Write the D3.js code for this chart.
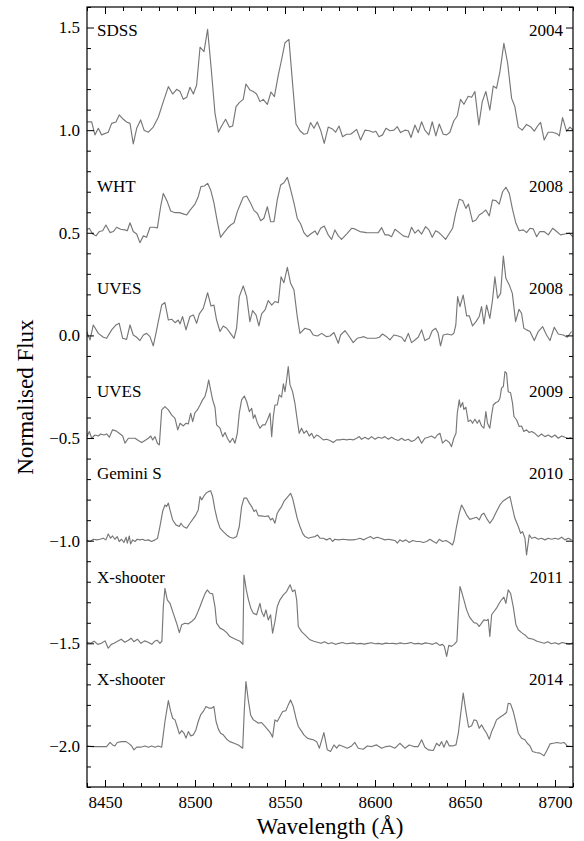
<!DOCTYPE html>
<html><head><meta charset="utf-8">
<script src="https://cdn.jsdelivr.net/npm/d3@7"></script>
<style>body{margin:0;background:#fff}svg{display:block}</style>
</head><body>
<script>
// ---- data: [wavelength (Å), normalised flux] ----
const sdss=[[8440,1.04],[8442.6,1.04],[8444.4,0.977],[8446.3,1.009],[8448.1,0.977],[8451.8,0.99],[8453.7,1.033],[8456.1,1.04],[8457.9,1.074],[8460.2,1.053],[8462.0,1.04],[8463.9,1.033],[8465.7,0.933],[8467.6,1.009],[8469.8,1.05],[8471.7,1.0],[8474.1,0.99],[8476.8,1.015],[8479.6,1.063],[8482.4,1.139],[8485.2,1.212],[8487.6,1.176],[8489.8,1.199],[8491.7,1.188],[8493.5,1.15],[8495.4,1.16],[8497.2,1.209],[8499.1,1.176],[8500.9,1.22],[8502.8,1.404],[8505.0,1.383],[8507.0,1.491],[8508.9,1.31],[8511.1,1.082],[8513.0,0.99],[8514.8,1.02],[8517.0,1.053],[8519.1,1.015],[8520.9,1.02],[8522.8,1.115],[8524.6,1.134],[8526.8,1.15],[8528.3,1.225],[8530.5,1.196],[8532.4,1.188],[8534.2,1.176],[8536.1,1.139],[8537.9,1.15],[8540.2,1.126],[8542.2,1.186],[8544.1,1.163],[8546.3,1.269],[8548.1,1.343],[8550.0,1.426],[8552.2,1.442],[8554.2,1.228],[8556.1,1.03],[8558.3,0.997],[8560.5,0.98],[8562.4,0.984],[8564.2,1.037],[8566.1,1.009],[8567.9,1.04],[8569.8,1.0],[8571.8,0.936],[8574.0,1.015],[8576.3,1.006],[8578.1,0.99],[8580.0,1.02],[8582.0,0.968],[8584.2,0.98],[8586.4,0.98],[8587.9,0.99],[8589.8,1.004],[8592.0,0.952],[8594.4,1.0],[8596.8,0.997],[8599.0,0.99],[8600.5,0.995],[8602.2,0.968],[8604.2,0.977],[8606.1,1.009],[8608.3,0.997],[8610.5,1.0],[8612.4,1.017],[8614.2,0.988],[8616.6,1.0],[8618.5,0.997],[8620.0,0.964],[8622.2,1.025],[8624.0,0.988],[8625.9,1.041],[8627.7,1.0],[8629.9,0.977],[8631.8,1.041],[8633.8,0.972],[8635.7,1.03],[8637.9,0.98],[8639.8,0.977],[8641.6,0.99],[8643.8,1.046],[8645.7,1.069],[8647.5,1.15],[8649.4,1.126],[8651.8,1.165],[8653.7,1.16],[8655.5,1.188],[8657.7,1.025],[8659.6,1.139],[8661.6,1.188],[8663.8,1.098],[8665.7,1.215],[8667.5,1.204],[8669.4,1.285],[8671.6,1.423],[8673.7,1.326],[8675.9,1.155],[8677.7,1.115],[8679.6,1.015],[8681.8,1.0],[8684.2,1.028],[8686.4,1.017],[8688.5,0.995],[8690.7,1.025],[8692.0,1.038],[8694.0,0.952],[8696.2,0.99],[8698.5,0.99],[8700.9,0.984],[8702.4,0.972],[8704.2,1.061],[8706.4,0.995],[8708.3,1.015],[8710,1.0]];
const wht=[[8439.8,1.014],[8441.3,1.022],[8443.1,0.994],[8445.0,0.985],[8446.8,1.006],[8448.7,1.01],[8450.5,1.038],[8452.8,1.001],[8454.6,1.006],[8456.5,1.027],[8458.7,1.017],[8461.1,1.014],[8462.4,1.01],[8463.9,1.049],[8465.7,1.006],[8467.6,0.994],[8469.4,0.952],[8471.3,0.985],[8473.1,0.978],[8475.0,1.027],[8477.2,1.027],[8479.1,1.024],[8480.9,1.127],[8482.4,1.192],[8484.6,1.152],[8486.5,1.106],[8488.9,1.098],[8491.3,1.098],[8493.5,1.092],[8495.4,1.087],[8497.6,1.114],[8500.0,1.14],[8501.8,1.176],[8503.3,1.225],[8505.2,1.228],[8507.0,1.241],[8508.7,1.209],[8510.5,1.147],[8512.4,1.054],[8514.2,0.978],[8516.1,1.001],[8518.0,1.022],[8519.8,1.038],[8521.7,1.049],[8523.5,1.103],[8525.4,1.144],[8526.8,1.173],[8528.7,1.179],[8530.9,1.144],[8532.8,1.108],[8534.6,1.095],[8536.5,1.059],[8538.3,1.071],[8540.2,1.127],[8542.0,1.054],[8543.9,1.054],[8545.7,1.16],[8547.6,1.233],[8549.4,1.244],[8551.3,1.27],[8553.1,1.212],[8555.0,1.144],[8556.8,1.071],[8558.7,1.043],[8560.5,1.001],[8562.4,0.981],[8564.2,0.994],[8566.7,1.009],[8568.0,0.99],[8569.8,1.022],[8571.8,1.033],[8574.0,0.99],[8575.9,0.968],[8577.7,1.014],[8579.6,0.985],[8581.4,0.968],[8584.2,0.994],[8587.0,1.022],[8588.8,1.019],[8591.6,1.006],[8595.3,1.001],[8599.0,1.0],[8601.8,1.001],[8603.7,1.025],[8605.5,0.99],[8607.4,0.99],[8609.2,0.981],[8611.1,1.017],[8613.5,1.001],[8615.7,0.985],[8618.5,0.978],[8620.3,1.027],[8622.2,0.998],[8624.0,1.014],[8625.9,0.994],[8628.1,1.03],[8630.0,1.014],[8631.8,0.978],[8633.7,1.01],[8635.5,1.001],[8637.4,0.985],[8639.2,0.968],[8641.1,0.994],[8643.1,1.022],[8644.8,1.095],[8646.8,1.163],[8648.7,1.157],[8650.5,1.119],[8651.9,1.14],[8654.2,1.054],[8656.1,1.062],[8657.9,1.087],[8659.8,1.098],[8661.6,1.111],[8663.5,1.082],[8665.3,1.16],[8667.2,1.157],[8669.0,1.14],[8670.9,1.2],[8672.7,1.222],[8674.6,1.192],[8676.4,1.114],[8678.3,1.046],[8680.1,1.01],[8682.4,1.014],[8684.2,1.001],[8686.1,1.022],[8687.9,1.019],[8689.8,0.981],[8691.6,1.006],[8693.9,1.006],[8696.3,0.99],[8698.7,1.022],[8700.9,1.006],[8703.1,0.99],[8705.5,0.994],[8707.9,0.998],[8710,0.98]];
const uves2008=[[8439.8,1.019],[8441.7,0.978],[8443.5,1.051],[8446.3,1.01],[8449.1,0.991],[8450.9,0.986],[8453.7,1.027],[8456.1,1.051],[8457.9,1.059],[8459.8,0.986],[8462.0,0.981],[8463.9,1.051],[8465.7,1.002],[8467.6,0.991],[8469.4,0.975],[8471.3,1.002],[8473.1,1.01],[8475.0,0.994],[8476.8,0.949],[8478.3,1.01],[8479.6,1.067],[8481.5,1.148],[8483.3,1.16],[8485.2,1.075],[8487.0,1.079],[8488.9,1.062],[8490.7,1.075],[8491.7,1.056],[8493.1,1.092],[8495.0,1.027],[8497.2,1.092],[8499.1,1.1],[8500.9,1.059],[8502.4,1.105],[8504.6,1.132],[8507.0,1.208],[8508.9,1.143],[8510.5,1.148],[8512.0,1.075],[8513.9,1.019],[8515.7,1.046],[8517.6,1.035],[8519.4,1.014],[8521.7,0.986],[8523.1,1.035],[8524.6,1.189],[8526.8,1.241],[8528.7,1.189],[8530.5,1.067],[8532.0,1.121],[8533.9,1.1],[8535.5,1.046],[8537.0,1.105],[8538.9,1.124],[8540.7,1.17],[8542.6,1.148],[8544.4,1.165],[8546.3,1.16],[8547.8,1.286],[8549.4,1.257],[8551.3,1.332],[8553.1,1.254],[8555.0,1.221],[8556.8,1.092],[8558.3,1.01],[8561.1,1.035],[8563.9,1.027],[8565.7,1.002],[8568.0,0.997],[8570.4,1.01],[8573.1,0.994],[8575.0,0.997],[8577.2,1.014],[8579.6,0.962],[8580.9,1.002],[8583.3,1.023],[8585.1,1.002],[8587.9,0.965],[8590.1,0.986],[8592.0,0.99],[8593.8,0.994],[8595.7,0.986],[8598.1,0.986],[8600.5,0.986],[8602.4,0.991],[8604.2,1.007],[8606.4,0.994],[8608.3,0.978],[8610.5,1.002],[8612.9,0.997],[8614.8,0.991],[8616.6,0.97],[8618.5,1.01],[8620.3,0.965],[8622.2,0.978],[8624.0,0.991],[8625.9,1.027],[8627.7,0.975],[8630.1,0.986],[8631.8,1.023],[8633.7,1.035],[8635.1,1.01],[8636.4,0.949],[8637.9,1.002],[8640.1,1.007],[8642.5,1.002],[8643.8,1.01],[8644.9,1.051],[8645.9,1.189],[8647.2,1.14],[8649.0,1.197],[8650.9,1.095],[8652.4,1.095],[8654.2,1.046],[8656.1,1.067],[8657.9,1.092],[8659.2,1.14],[8660.5,1.056],[8662.0,1.148],[8663.8,1.083],[8665.3,1.173],[8666.6,1.286],[8668.1,1.181],[8669.8,1.205],[8671.3,1.387],[8672.7,1.278],[8674.6,1.246],[8676.3,1.205],[8678.1,1.067],[8680.0,1.127],[8681.4,1.108],[8682.7,1.035],[8684.2,1.027],[8686.1,1.019],[8688.5,0.975],[8690.7,1.019],[8693.1,1.043],[8695.3,1.002],[8697.2,0.975],[8699.6,1.04],[8701.8,1.007],[8704.6,1.002],[8706.8,0.991],[8709.2,1.019]];
const uves2009=[[8439.8,1.004],[8441.3,1.032],[8442.6,0.999],[8444.4,1.015],[8446.3,1.01],[8447.6,1.02],[8449.4,1.015],[8450.9,1.02],[8452.4,1.004],[8454.2,1.04],[8456.1,1.035],[8457.9,1.023],[8459.8,1.01],[8461.1,0.975],[8463.0,0.999],[8464.8,0.999],[8466.7,0.999],[8468.5,0.988],[8470.4,0.978],[8472.2,0.988],[8474.1,0.999],[8475.4,1.01],[8476.5,0.991],[8477.8,1.007],[8479.1,0.975],[8480.2,0.967],[8481.5,1.137],[8483.3,1.153],[8485.2,1.137],[8487.0,1.113],[8488.9,1.096],[8490.4,1.04],[8491.7,1.072],[8493.5,1.059],[8495.0,1.072],[8496.3,1.069],[8497.6,1.121],[8498.7,1.08],[8500.0,1.124],[8501.3,1.137],[8502.8,1.161],[8504.2,1.186],[8505.5,1.202],[8506.5,1.234],[8507.6,1.283],[8508.7,1.234],[8509.8,1.186],[8511.1,1.15],[8512.0,1.064],[8513.9,1.048],[8515.4,1.007],[8516.7,1.027],[8518.0,0.999],[8519.4,0.978],[8520.9,0.999],[8522.2,0.975],[8523.5,1.023],[8524.6,1.121],[8525.9,1.186],[8527.4,1.205],[8528.7,1.178],[8530.2,1.129],[8531.5,1.145],[8532.4,1.096],[8533.3,1.113],[8534.6,1.075],[8536.1,1.048],[8537.6,1.064],[8538.9,1.064],[8540.2,1.088],[8541.7,1.121],[8542.6,1.007],[8543.5,1.105],[8544.4,1.161],[8545.7,1.161],[8546.8,1.21],[8548.1,1.199],[8549.1,1.264],[8550.0,1.226],[8550.9,1.283],[8551.8,1.348],[8552.8,1.259],[8554.2,1.226],[8555.5,1.17],[8556.8,1.088],[8557.9,1.023],[8559.2,1.048],[8560.5,1.023],[8562.0,1.036],[8563.5,1.01],[8564.8,1.023],[8566.1,0.999],[8567.6,1.015],[8569.1,1.007],[8571.3,0.991],[8573.1,0.994],[8575.0,0.988],[8576.8,0.978],[8578.7,0.991],[8580.5,0.991],[8582.4,0.994],[8584.2,0.991],[8586.1,0.994],[8587.9,0.991],[8589.8,0.999],[8591.3,1.007],[8592.5,0.994],[8594.4,1.004],[8596.3,0.994],[8598.1,1.007],[8600.0,0.994],[8601.8,1.004],[8603.7,0.999],[8605.5,1.007],[8607.4,0.994],[8609.2,1.004],[8611.1,0.994],[8612.9,0.988],[8614.8,0.999],[8616.6,0.988],[8618.5,0.994],[8620.3,0.983],[8622.2,0.991],[8624.0,1.007],[8625.9,0.975],[8627.7,0.999],[8629.6,1.004],[8631.4,1.01],[8633.3,0.999],[8634.6,1.015],[8636.1,1.023],[8637.5,0.975],[8639.4,0.991],[8641.3,0.978],[8642.5,0.958],[8643.8,0.999],[8645.0,1.023],[8645.7,1.121],[8646.8,1.186],[8647.5,1.15],[8648.7,1.173],[8649.4,1.14],[8650.5,1.15],[8651.8,1.08],[8653.1,1.088],[8654.2,1.072],[8655.5,1.092],[8656.8,1.072],[8657.9,1.088],[8659.2,1.059],[8660.5,1.048],[8661.6,1.129],[8662.5,1.072],[8663.8,1.048],[8664.8,1.113],[8665.7,1.161],[8667.2,1.173],[8668.5,1.178],[8669.4,1.194],[8670.3,1.243],[8671.3,1.251],[8672.2,1.324],[8673.1,1.316],[8674.0,1.226],[8675.3,1.221],[8676.4,1.17],[8677.2,1.105],[8678.7,1.088],[8680.1,1.056],[8681.4,1.059],[8682.7,1.032],[8684.2,1.04],[8685.7,1.027],[8687.0,1.032],[8688.8,1.023],[8690.7,1.007],[8692.5,1.02],[8694.4,1.007],[8696.3,1.015],[8698.1,1.004],[8700.0,1.015],[8701.8,0.999],[8703.7,1.01],[8705.5,1.004],[8707.4,0.999],[8709.2,1.004]];
const gemini=[[8439.8,1.004],[8441.7,0.996],[8443.5,1.007],[8445.4,1.004],[8447.2,1.007],[8449.1,1.012],[8450.5,1.004],[8451.8,1.033],[8453.1,1.012],[8454.2,1.023],[8455.5,1.007],[8456.8,1.02],[8457.9,0.996],[8459.2,1.007],[8460.5,0.991],[8461.7,1.017],[8462.4,0.988],[8463.5,1.023],[8464.2,0.984],[8465.4,1.004],[8466.7,0.996],[8467.9,1.007],[8469.4,1.004],[8470.9,1.007],[8472.2,1.001],[8474.1,1.004],[8475.9,0.996],[8477.8,1.004],[8479.2,1.012],[8480.5,1.069],[8482.0,1.142],[8483.3,1.174],[8484.2,1.166],[8485.2,1.183],[8486.1,1.15],[8487.6,1.101],[8489.4,1.077],[8491.3,1.069],[8492.2,1.085],[8493.5,1.069],[8495.4,1.061],[8497.2,1.085],[8499.1,1.109],[8500.5,1.126],[8501.8,1.15],[8502.8,1.215],[8503.7,1.199],[8505.0,1.218],[8506.1,1.231],[8507.4,1.239],[8508.7,1.243],[8509.8,1.215],[8511.1,1.15],[8512.4,1.101],[8513.9,1.061],[8515.7,1.044],[8517.6,1.028],[8519.4,1.017],[8521.3,1.012],[8523.1,1.02],[8524.6,1.069],[8525.9,1.166],[8527.2,1.207],[8528.7,1.207],[8530.2,1.183],[8531.5,1.166],[8532.8,1.142],[8533.9,1.15],[8535.2,1.121],[8537.0,1.121],[8538.9,1.118],[8540.7,1.121],[8542.0,1.101],[8543.1,1.109],[8544.4,1.085],[8545.7,1.134],[8546.8,1.15],[8548.1,1.166],[8549.4,1.191],[8550.9,1.207],[8552.4,1.223],[8553.1,1.231],[8554.2,1.207],[8555.5,1.158],[8556.8,1.109],[8558.3,1.069],[8559.8,1.036],[8561.1,1.02],[8563.0,1.012],[8564.8,1.017],[8566.7,1.02],[8568.0,1.028],[8569.4,1.012],[8571.3,1.012],[8573.1,1.004],[8575.0,1.012],[8576.4,0.996],[8577.7,1.007],[8579.6,1.004],[8582.4,1.007],[8585.1,1.004],[8587.9,1.004],[8589.8,1.007],[8591.6,1.012],[8593.8,1.004],[8595.3,1.012],[8597.5,1.02],[8599.0,1.01],[8601.3,1.017],[8603.1,1.012],[8605.5,1.004],[8607.4,1.007],[8609.2,1.004],[8611.1,1.001],[8612.4,0.988],[8613.8,1.004],[8615.3,0.996],[8617.2,1.004],[8619.0,0.991],[8620.9,1.001],[8623.1,0.996],[8625.0,0.996],[8626.8,0.991],[8628.7,0.996],[8630.5,1.007],[8632.4,0.996],[8634.2,0.988],[8635.7,1.007],[8637.5,0.996],[8639.4,1.001],[8641.3,0.991],[8643.1,0.979],[8644.0,1.004],[8645.3,1.069],[8646.8,1.134],[8648.1,1.174],[8649.4,1.153],[8650.9,1.126],[8652.7,1.104],[8654.6,1.109],[8656.4,1.114],[8657.9,1.101],[8659.2,1.126],[8660.5,1.134],[8662.0,1.109],[8663.8,1.085],[8665.7,1.109],[8667.5,1.142],[8669.4,1.174],[8670.9,1.191],[8672.2,1.199],[8673.5,1.207],[8675.0,1.215],[8676.4,1.158],[8677.7,1.109],[8679.6,1.069],[8680.9,1.036],[8682.0,1.044],[8683.3,1.012],[8684.2,0.931],[8685.7,1.028],[8687.0,1.012],[8688.8,1.017],[8690.7,1.007],[8692.5,1.012],[8694.4,1.004],[8696.3,1.012],[8698.1,1.007],[8700.0,1.012],[8701.8,1.007],[8703.7,1.017],[8705.5,1.004],[8707.4,1.012],[8709.2,1.004]];
const xsh2011=[[8440,1.005],[8442,1.0],[8444,1.01],[8446,0.995],[8448,1.0],[8450,1.012],[8451.8,0.976],[8453.5,0.995],[8455,1.0],[8457,1.01],[8459,1.02],[8461,1.005],[8463,1.015],[8464.5,1.025],[8466,1.008],[8468,1.02],[8470,1.0],[8472,1.012],[8474,1.005],[8476,0.995],[8477.5,1.01],[8479,1.015],[8480.5,1.0],[8481.6,1.01],[8482.4,1.179],[8483.3,1.268],[8484.6,1.212],[8486.1,1.195],[8487.9,1.147],[8489.8,1.098],[8491.3,1.052],[8492.6,1.09],[8494.4,1.098],[8496.3,1.095],[8498.1,1.106],[8500.0,1.122],[8501.3,1.147],[8502.8,1.179],[8504.2,1.212],[8505.5,1.241],[8506.8,1.26],[8508.3,1.244],[8509.8,1.241],[8511.1,1.179],[8512.0,1.098],[8513.9,1.074],[8515.7,1.066],[8517.6,1.052],[8519.4,1.033],[8521.3,1.025],[8523.1,1.017],[8525.0,1.01],[8526.6,0.995],[8527.2,1.333],[8528.5,1.26],[8529.7,1.212],[8531.0,1.171],[8532.4,1.147],[8534.2,1.139],[8536.1,1.195],[8537.0,1.155],[8538.3,1.13],[8539.4,1.163],[8540.7,1.114],[8542.0,1.139],[8543.1,1.049],[8544.4,1.106],[8545.7,1.179],[8547.2,1.212],[8549.1,1.236],[8550.9,1.252],[8552.8,1.285],[8554.2,1.252],[8555.5,1.26],[8556.5,1.212],[8557.4,1.082],[8559.2,1.057],[8561.1,1.041],[8563.9,1.017],[8566,1.01],[8568,1.005],[8570,1.0],[8572,1.008],[8574,0.998],[8576,1.003],[8578,0.995],[8580,1.0],[8582,1.004],[8584,0.998],[8586,1.0],[8588,1.002],[8590,0.997],[8592,1.0],[8594,0.996],[8596,1.0],[8598,1.003],[8600,0.998],[8602,1.0],[8604,0.996],[8606,1.001],[8608,0.999],[8610,1.0],[8612,0.997],[8614,1.002],[8616,0.998],[8618,1.0],[8620,1.004],[8622,0.997],[8624,1.0],[8626,0.996],[8628,1.002],[8630,0.999],[8632,0.995],[8634,1.003],[8636,0.99],[8637.5,0.995],[8638.5,0.985],[8639.8,0.936],[8641,0.99],[8642.5,0.985],[8644,0.995],[8645.5,1.01],[8646.3,1.147],[8647.2,1.277],[8648.1,1.252],[8649.4,1.212],[8650.9,1.163],[8652.4,1.13],[8653.7,1.114],[8655.0,1.101],[8656.4,1.098],[8657.9,1.082],[8659.2,1.098],[8660.5,1.114],[8662.0,1.111],[8662.9,1.117],[8663.8,1.033],[8664.8,1.139],[8666.1,1.155],[8667.5,1.171],[8669.0,1.195],[8670.3,1.212],[8671.6,1.225],[8672.7,1.195],[8674.0,1.26],[8675.3,1.244],[8676.8,1.179],[8678.3,1.09],[8679.6,1.066],[8681.4,1.052],[8683.3,1.041],[8685.1,1.025],[8687.9,1.02],[8690,1.01],[8692,1.005],[8694,1.0],[8696,1.008],[8698,0.998],[8700,1.003],[8702,0.996],[8704,1.004],[8706,1.0],[8708,0.996],[8710,1.002]];
const xsh2014=[[8439.8,1.0],[8442.6,0.997],[8445.4,0.997],[8448.1,0.997],[8450.9,0.997],[8452.8,1.017],[8454.2,1.005],[8455.5,1.0],[8456.8,1.017],[8459.2,1.021],[8461.7,1.021],[8463.5,1.01],[8464.8,1.0],[8466.1,0.981],[8467.6,0.994],[8469.8,0.994],[8472.2,1.0],[8474.1,0.994],[8475.9,1.0],[8477.8,0.994],[8479.6,1.0],[8481.5,0.994],[8483.3,1.119],[8485.2,1.221],[8486.5,1.168],[8487.6,1.135],[8488.9,1.127],[8490.2,1.091],[8491.3,1.059],[8492.6,1.075],[8493.9,1.062],[8495.0,1.038],[8496.3,1.07],[8497.6,1.049],[8499.1,1.054],[8500.5,1.078],[8501.8,1.119],[8503.1,1.151],[8504.6,1.168],[8506.1,1.192],[8507.9,1.184],[8509.2,1.184],[8510.5,1.192],[8511.7,1.119],[8513.0,1.082],[8514.2,1.062],[8515.7,1.054],[8517.6,1.033],[8519.4,1.021],[8521.7,1.013],[8524.1,1.005],[8526.5,0.989],[8527.4,1.176],[8528.3,1.314],[8529.6,1.224],[8530.9,1.151],[8532.4,1.127],[8533.9,1.119],[8535.2,1.111],[8537.0,1.114],[8538.9,1.095],[8540.2,1.082],[8542.0,1.062],[8543.1,1.043],[8544.4,1.127],[8545.7,1.119],[8547.2,1.143],[8548.7,1.168],[8550.5,1.172],[8551.8,1.2],[8553.1,1.224],[8554.6,1.192],[8556.1,1.135],[8557.4,1.095],[8558.7,1.078],[8560.5,1.054],[8562.4,1.038],[8564.2,1.033],[8565.7,1.03],[8567.6,1.021],[8569.1,0.989],[8571.6,1.065],[8573.5,0.981],[8575.3,0.973],[8577.2,1.005],[8578.7,0.989],[8580.1,1.005],[8582.4,0.997],[8584.6,0.989],[8587.0,1.0],[8588.8,1.017],[8590.7,0.989],[8593.5,0.984],[8595.7,1.0],[8598.1,0.997],[8600.9,1.005],[8603.7,0.989],[8606.1,0.997],[8608.3,1.0],[8611.1,0.989],[8613.8,1.013],[8616.6,0.989],[8619.0,1.005],[8621.6,0.997],[8624.0,0.997],[8625.9,1.03],[8627.7,0.994],[8629.6,0.981],[8632.4,0.978],[8634.2,1.013],[8635.7,1.0],[8637.0,1.021],[8638.3,0.994],[8639.8,1.026],[8641.3,1.0],[8643.1,1.0],[8645.0,1.005],[8646.3,1.062],[8647.2,1.127],[8649.0,1.257],[8650.5,1.168],[8652.0,1.091],[8653.7,1.098],[8655.0,1.127],[8656.4,1.124],[8657.9,1.086],[8659.2,1.103],[8660.5,1.082],[8662.0,1.062],[8663.5,1.033],[8664.8,1.07],[8666.1,1.095],[8667.5,1.127],[8669.4,1.14],[8671.3,1.151],[8673.1,1.163],[8674.0,1.208],[8675.3,1.205],[8676.8,1.168],[8678.3,1.114],[8679.6,1.062],[8681.4,1.038],[8683.3,1.03],[8684.6,1.013],[8686.1,1.0],[8687.5,0.973],[8689.4,0.968],[8691.6,0.965],[8693.9,0.952],[8695.7,0.981],[8697.2,1.01],[8699.0,1.013],[8701.3,1.017],[8703.1,1.013],[8705.0,1.017],[8706.8,1.0],[8709.2,0.997]];

const spectra=[sdss,wht,uves2008,uves2009,gemini,xsh2011,xsh2014];
const offsets=[0,-0.5,-1.0,-1.5,-2.0,-2.5,-3.0];
const instruments=["SDSS","WHT","UVES","UVES","Gemini S","X-shooter","X-shooter"];
const years=["2004","2008","2008","2009","2010","2011","2014"];
const labelLevels=[1.49,0.73,0.23,-0.27,-0.67,-1.175,-1.675];
const xMajor=[8450,8500,8550,8600,8650,8700];
const yMajor=[1.5,1.0,0.5,0.0,-0.5,-1.0,-1.5,-2.0];

// ---- layout ----
const W=584,H=841;
const L=87,R=573,T=7,B=787;
const font="'Liberation Serif','Times New Roman',serif";
const svg=d3.select("body").append("svg").attr("width",W).attr("height",H);
const x=d3.scaleLinear().domain([8440,8710]).range([L,R]);
const y=d3.scaleLinear().domain([-2.2,1.6]).range([B,T]);

svg.append("defs").append("clipPath").attr("id","clip")
  .append("rect").attr("x",L).attr("y",T).attr("width",R-L).attr("height",B-T);

const line=d3.line().x(d=>x(d[0])).y(d=>y(d[1]));
const g=svg.append("g").attr("clip-path","url(#clip)");
spectra.forEach((s,i)=>{
  g.append("path").datum(s.map(d=>[d[0],d[1]+offsets[i]]))
    .attr("d",line).attr("fill","none").attr("stroke","#777")
    .attr("stroke-width",1.15).attr("stroke-linejoin","round");
});

// ---- axes ----
const fmtY=d=>(d<0?"\u2212":"")+Math.abs(d).toFixed(1);
const xMinor=d3.range(8440,8711,10).filter(v=>v%50!==0);
const yMinor=d3.range(-22,17,1).map(v=>v/10).filter(v=>Math.abs(Math.round(v*10))%5!==0);

function styleAxis(sel){
  sel.select(".domain").remove();
  sel.selectAll("line").attr("stroke","#000").attr("stroke-width",1);
  sel.selectAll("text").attr("font-family",font).attr("font-size",17).attr("fill","#000");
}
// bottom
svg.append("g").attr("transform",`translate(0,${B})`)
  .call(d3.axisBottom(x).tickValues(xMajor).tickSize(-7).tickPadding(9).tickFormat(d3.format("d"))).call(styleAxis);
svg.append("g").attr("transform",`translate(0,${B})`)
  .call(d3.axisBottom(x).tickValues(xMinor).tickSize(-4).tickFormat("")).call(styleAxis);
// top
svg.append("g").attr("transform",`translate(0,${T})`)
  .call(d3.axisTop(x).tickValues(xMajor).tickSize(-7).tickFormat("")).call(styleAxis);
svg.append("g").attr("transform",`translate(0,${T})`)
  .call(d3.axisTop(x).tickValues(xMinor).tickSize(-4).tickFormat("")).call(styleAxis);
// left
svg.append("g").attr("transform",`translate(${L},0)`)
  .call(d3.axisLeft(y).tickValues(yMajor).tickSize(-7).tickPadding(7).tickFormat(fmtY)).call(styleAxis);
svg.append("g").attr("transform",`translate(${L},0)`)
  .call(d3.axisLeft(y).tickValues(yMinor).tickSize(-4).tickFormat("")).call(styleAxis);
// right
svg.append("g").attr("transform",`translate(${R},0)`)
  .call(d3.axisRight(y).tickValues(yMajor).tickSize(-7).tickFormat("")).call(styleAxis);
svg.append("g").attr("transform",`translate(${R},0)`)
  .call(d3.axisRight(y).tickValues(yMinor).tickSize(-4).tickFormat("")).call(styleAxis);

// frame
svg.append("rect").attr("x",L).attr("y",T).attr("width",R-L).attr("height",B-T)
  .attr("fill","none").attr("stroke","#000").attr("stroke-width",1.2);

// ---- labels ----
const lab=svg.append("g").attr("font-family",font).attr("font-size",17).attr("fill","#000");
instruments.forEach((t,i)=>{
  lab.append("text").attr("x",L+10).attr("y",y(labelLevels[i])).attr("dy","0.35em").text(t);
  lab.append("text").attr("x",R-10).attr("y",y(labelLevels[i])).attr("dy","0.35em")
    .attr("text-anchor","end").text(years[i]);
});

svg.append("text").attr("x",(L+R)/2).attr("y",834).attr("text-anchor","middle")
  .attr("font-family",font).attr("font-size",23).text("Wavelength (\u00C5)");
svg.append("text").attr("transform",`translate(33,${(T+B)/2}) rotate(-90)`)
  .attr("text-anchor","middle").attr("font-family",font).attr("font-size",23).text("Normalised Flux");
</script>
</body></html>
